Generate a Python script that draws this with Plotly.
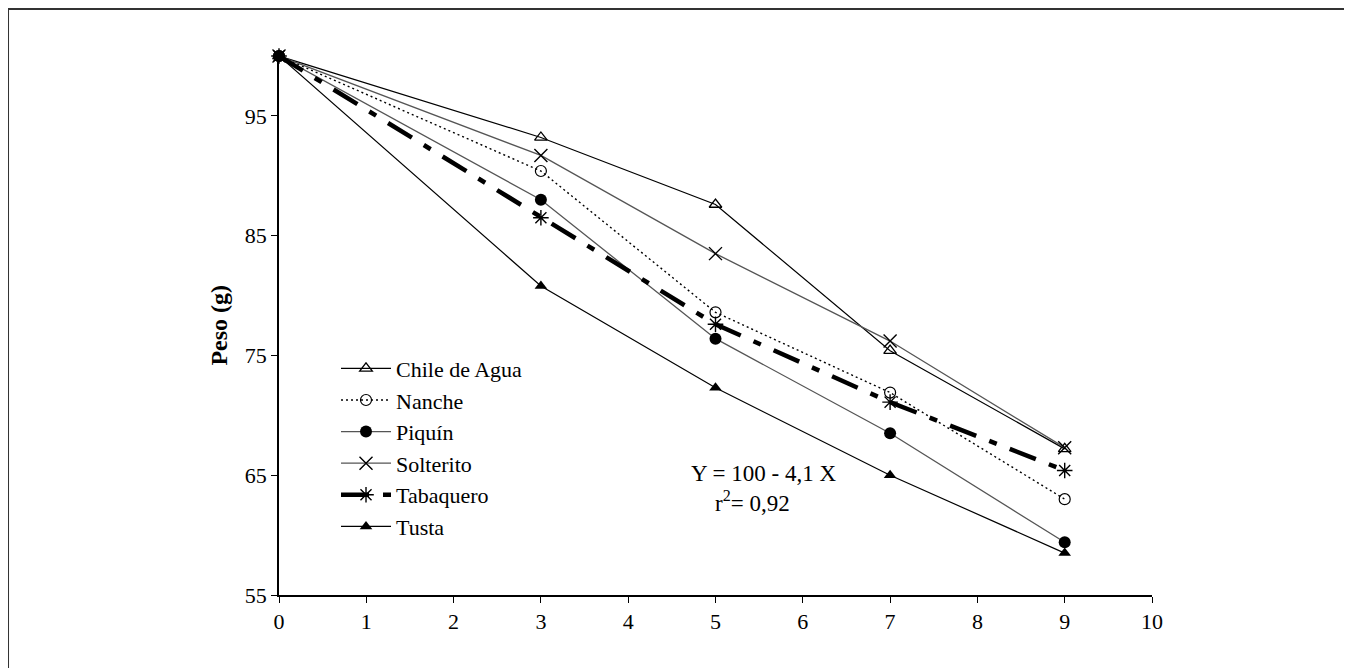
import plotly.graph_objects as go

dias = [0, 3, 5, 7, 9]
chile_de_agua = [100, 93.2, 87.6, 75.4, 67.2]
nanche = [100, 90.4, 78.6, 71.9, 63.0]
piquin = [100, 88.0, 76.4, 68.5, 59.4]
solterito = [100, 91.7, 83.5, 76.2, 67.3]
tabaquero = [100, 86.5, 77.6, 71.1, 65.4]
tusta = [100, 80.8, 72.3, 65.0, 58.5]

x_ticks = list(range(0, 11))
y_ticks = [55, 65, 75, 85, 95]

FONT = "Liberation Serif"

series = [
    ("Chile de Agua", chile_de_agua, dict(color="black", width=1.2),
     dict(symbol="triangle-up-open", size=11, color="black", line=dict(width=1.3, color="black"))),
    ("Nanche", nanche, dict(color="black", width=1.4, dash="2px,3px"),
     dict(symbol="circle-open", size=11, color="black", line=dict(width=1.2, color="black"))),
    ("Piquín", piquin, dict(color="#555555", width=1.3),
     dict(symbol="circle", size=12, color="black")),
    ("Solterito", solterito, dict(color="#555555", width=1.3),
     dict(symbol="x-thin-open", size=13, color="black", line=dict(width=1.4, color="black"))),
    ("Tabaquero", tabaquero, dict(color="black", width=4.5, dash="28px,14px,8px,14px"),
     dict(symbol="asterisk-open", size=13, color="black", line=dict(width=1.4, color="black"))),
    ("Tusta", tusta, dict(color="black", width=1.2),
     dict(symbol="triangle-up", size=11, color="black")),
]

fig = go.Figure()
for i, (name, vals, line, marker) in enumerate(series):
    fig.add_trace(go.Scatter(
        x=dias, y=vals, name=name, mode="lines+markers",
        line=line, marker=marker, legendgroup=f"g{i}", cliponaxis=False,
    ))

fig.update_layout(
    width=1352, height=668,
    margin=dict(l=271, r=208, t=48, b=81),
    paper_bgcolor="white", plot_bgcolor="white",
    font=dict(family=FONT, size=22, color="black"),
    showlegend=True,
    legend=dict(x=0.0653, y=0.459, xanchor="left", yanchor="top",
                bgcolor="rgba(0,0,0,0)", font=dict(family=FONT, size=22),
                tracegroupgap=0, itemwidth=50),
    xaxis=dict(range=[0, 10], tickvals=x_ticks, showgrid=False, zeroline=False,
               showline=True, linecolor="black", linewidth=1.5,
               ticks="outside", ticklen=6, tickcolor="black", tickwidth=1.3,
               tickfont=dict(family=FONT, size=22)),
    yaxis=dict(range=[55, 100], tickvals=y_ticks, showgrid=False, zeroline=False,
               showline=True, linecolor="black", linewidth=1.5,
               ticks="outside", ticklen=6, tickcolor="black", tickwidth=1.3,
               tickfont=dict(family=FONT, size=22)),
    annotations=[
        dict(text="<b>Peso (g)</b>", xref="paper", yref="paper", x=-0.087, y=0.5,
             textangle=-90, showarrow=False, font=dict(family=FONT, size=24)),
        dict(text="Y = 100 - 4,1 X", xref="paper", yref="paper", x=0.555, y=0.198,
             showarrow=False, font=dict(family=FONT, size=23)),
        dict(text="r<sup>2</sup>= 0,92", xref="paper", yref="paper", x=0.542, y=0.143,
             showarrow=False, font=dict(family=FONT, size=23)),
    ],
    shapes=[
        dict(type="rect", xref="paper", yref="paper", x0=-0.3104, x1=1.2234, y0=-0.3, y1=1.087,
             line=dict(color="#333333", width=2), fillcolor="rgba(0,0,0,0)"),
    ],
)

fig.write_html("out.html")
